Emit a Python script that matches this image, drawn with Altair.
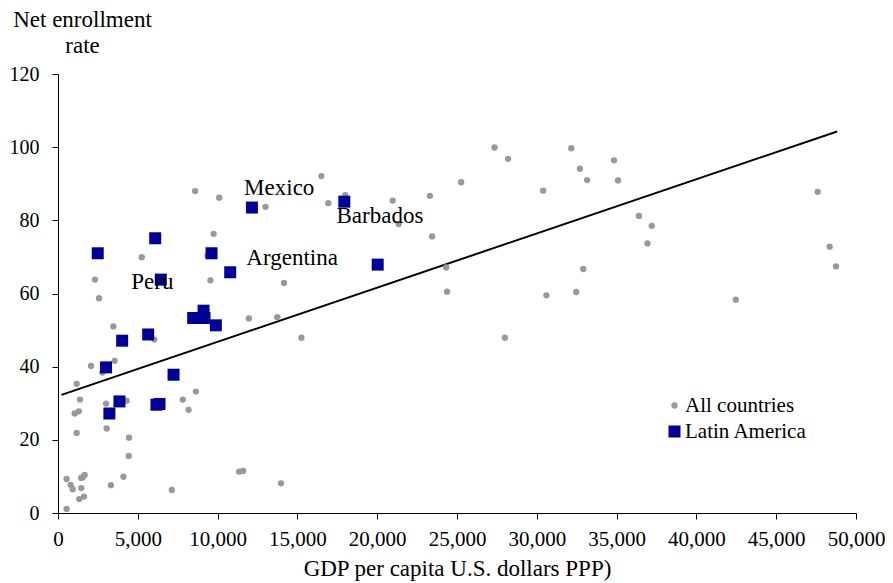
import altair as alt
import pandas as pd

# All countries (GDP per capita, net enrollment rate)
all_x = [8590, 10100, 13000, 9750, 5250, 9370, 2320, 9550, 14160, 2570,
         3470, 6040, 11960, 13740, 2070, 2780, 3550, 1170, 1380, 3010,
         4300, 7820, 8640, 8180, 1050, 1300, 3050, 1170, 4450, 4430,
         540, 790, 920, 1460, 1450, 1550, 1670, 1330, 1630, 540,
         3320, 4100, 7130, 11350, 11600, 13970, 15250, 16500, 16940, 18000,
         20970, 23300, 25260, 27350, 28200, 30400, 21350, 23440, 24320, 24380,
         30600, 28000, 32160, 32700, 33150, 34840, 35090, 36400, 37200, 36930,
         47600, 48350, 48750, 32910, 32470, 42470]
all_y = [88.0, 86.2, 83.7, 76.3, 69.9, 70.3, 63.8, 63.6, 62.9, 58.7,
         51.0, 47.4, 53.2, 53.5, 40.2, 38.4, 41.6, 35.3, 31.0, 29.9,
         30.7, 31.0, 33.2, 28.2, 27.2, 27.8, 23.1, 21.9, 20.6, 15.6,
         9.3, 7.7, 6.5, 6.8, 9.6, 9.8, 10.4, 3.8, 4.5, 1.1,
         7.6, 9.9, 6.3, 11.3, 11.5, 8.1, 47.9, 92.1, 84.7, 86.9,
         85.4, 86.7, 90.4, 99.9, 96.8, 88.1, 79.0, 75.6, 67.1, 60.5,
         59.5, 47.9, 99.7, 94.1, 91.0, 96.4, 90.9, 81.2, 78.5, 73.7,
         87.8, 72.8, 67.4, 66.7, 60.4, 58.3]

# Latin America
la_x = [12150, 6090, 2490, 9620, 6440, 10790, 4020, 5650, 8470, 9120,
        9180, 9890, 3010, 7240, 3850, 3220, 6170, 6360, 17940, 20030]
la_y = [83.5, 75.1, 71.0, 71.0, 63.8, 65.8, 47.1, 48.8, 53.3, 55.3,
        53.3, 51.3, 39.8, 37.8, 30.5, 27.2, 29.6, 29.8, 85.1, 67.9]

# Trend line endpoints
trend_x = [220, 48820]
trend_y = [32.3, 104.3]

# Annotations
lab_text = ["Mexico", "Barbados", "Argentina", "Peru"]
lab_x = [11660, 17450, 11800, 4590]
lab_y = [86.8, 79.4, 67.9, 61.2]

groups = ["All countries", "Latin America"]

pts = pd.DataFrame({
    "gdp": all_x + la_x,
    "rate": all_y + la_y,
    "group": [groups[0]] * len(all_x) + [groups[1]] * len(la_x),
})
trend = pd.DataFrame({"gdp": trend_x, "rate": trend_y})
labels = pd.DataFrame({"gdp": lab_x, "rate": lab_y, "text": lab_text})

FONT = "Liberation Serif"

xscale = alt.Scale(domain=[0, 50000], nice=False)
yscale = alt.Scale(domain=[0, 120], nice=False)

xaxis = alt.Axis(values=list(range(0, 50001, 5000)), format=",.0f", grid=False,
                 title="GDP per capita U.S. dollars PPP)", tickSize=6,
                 labelPadding=9, titlePadding=8, labelFlush=False, titleFontSize=23)
yaxis = alt.Axis(values=list(range(0, 121, 20)), grid=False,
                 title=["Net enrollment", "rate"], titleAngle=0,
                 titleAlign="center", titleBaseline="alphabetic",
                 titleX=24, titleY=-48, titleLineHeight=26, titleFontSize=23,
                 tickSize=6, labelPadding=13, labelFontSize=20)

X = alt.X("gdp:Q", scale=xscale, axis=xaxis)
Y = alt.Y("rate:Q", scale=yscale, axis=yaxis)

points = alt.Chart(pts).mark_point(filled=True, opacity=1).encode(
    x=X,
    y=Y,
    color=alt.Color("group:N", scale=alt.Scale(domain=groups, range=["#999999", "#000099"]),
                    legend=alt.Legend(title=None, orient="none", legendX=606, legendY=321,
                                      padding=0, labelOffset=0, rowPadding=4,
                                      labelFontSize=21, labelFont=FONT, labelColor="black",
                                      labelBaseline="middle")),
    shape=alt.Shape("group:N", scale=alt.Scale(domain=groups, range=["circle", "square"])),
    size=alt.Size("group:N", scale=alt.Scale(domain=groups, range=[40, 144])),
    order=alt.Order("group:N"),
)

line = alt.Chart(trend).mark_line(color="black", strokeWidth=2).encode(x=X, y=Y)

text = alt.Chart(labels).mark_text(align="left", baseline="alphabetic", font=FONT,
                                   fontSize=23, color="black").encode(
    x=X, y=Y, text="text:N",
)

chart = alt.layer(line, points, text).properties(
    width=798, height=439,
    autosize=alt.AutoSizeParams(type="none"),
    padding={"left": 50, "top": 66, "right": 29, "bottom": 70},
).configure_view(stroke=None).configure_axis(
    labelFont=FONT, titleFont=FONT, labelFontSize=21, titleFontSize=23,
    labelColor="black", titleColor="black", domainColor="black", tickColor="black",
    titleFontWeight="normal", domainWidth=1, tickWidth=1,
)

chart.save("out.html", embed_options={"renderer": "svg", "actions": False})
